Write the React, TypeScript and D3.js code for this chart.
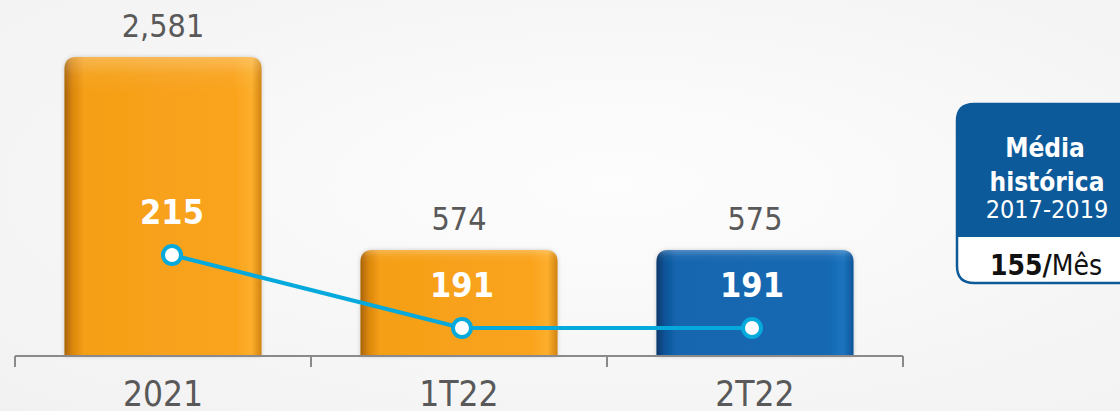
import * as d3 from 'd3'

const categories = ['2021', '1T22', '2T22']
const totals = [2581, 574, 575]
const monthly = [215, 191, 191]
const highlight = ['2T22']
const avgValue = 155
const avgTitle = ['Média', 'histórica']
const avgPeriod = '2017-2019'
const avgUnit = 'Mês'

const W = 1120
const H = 411
const baseY = 356
const FONT = '"DejaVu Sans Condensed", "DejaVu Sans", sans-serif'

export default function App() {
  const x = d3.scaleBand<string>().domain(categories).range([15, 903]).paddingInner(0.334).paddingOuter(0.167)
  // bars do not start at zero in the original, so the domain is offset
  const y = d3.scaleLinear().domain([-528, 2581]).range([baseY, 57])
  const xl = d3.scalePoint<string>().domain(categories).range([172, 752])
  const yl = d3.scaleLinear().domain([181.8, 215]).range([baseY, 255])
  const fmt = d3.format(',')

  const line = d3.line<number>()
    .x((_, i) => xl(categories[i]) as number)
    .y(d => yl(d))

  const r = 12
  const barPath = (x0: number, y0: number, w: number, h: number) =>
    `M${x0},${y0 + h} V${y0 + r} Q${x0},${y0} ${x0 + r},${y0} H${x0 + w - r} Q${x0 + w},${y0} ${x0 + w},${y0 + r} V${y0 + h} Z`

  const tickXs = categories.map((_, i) => 15 + i * x.step()).concat([15 + categories.length * x.step()])

  return (
    <div style={{ position: 'absolute', left: 0, top: 0 }}>
      <svg width={W} height={H} style={{ display: 'block' }}>
        <defs>
          <radialGradient id="bg" cx="0.55" cy="0.45" r="0.8">
            <stop offset="0" stopColor="#fdfdfd" />
            <stop offset="1" stopColor="#f1f1f1" />
          </radialGradient>
          <linearGradient id="orangeH" x1="0" x2="1" y1="0" y2="0">
            <stop offset="0" stopColor="#a86305" />
            <stop offset="0.04" stopColor="#d9860c" />
            <stop offset="0.10" stopColor="#f59f18" />
            <stop offset="0.86" stopColor="#faa31c" />
            <stop offset="0.95" stopColor="#fcae2c" />
            <stop offset="1" stopColor="#d08310" />
          </linearGradient>
          <linearGradient id="blueH" x1="0" x2="1" y1="0" y2="0">
            <stop offset="0" stopColor="#08376b" />
            <stop offset="0.04" stopColor="#0d5396" />
            <stop offset="0.10" stopColor="#1465af" />
            <stop offset="0.86" stopColor="#1668b2" />
            <stop offset="0.95" stopColor="#1b73be" />
            <stop offset="1" stopColor="#0e5598" />
          </linearGradient>
          <linearGradient id="topHL" x1="0" x2="0" y1="0" y2="1">
            <stop offset="0" stopColor="#ffffff" stopOpacity="0.25" />
            <stop offset="0.06" stopColor="#ffffff" stopOpacity="0.05" />
            <stop offset="0.12" stopColor="#ffffff" stopOpacity="0" />
          </linearGradient>
          <filter id="shadow" x="-10%" y="-10%" width="120%" height="120%">
            <feDropShadow dx="0" dy="0" stdDeviation="2" floodColor="#000" floodOpacity="0.18" />
          </filter>
        </defs>
        <rect width={W} height={H} fill="url(#bg)" />

        {categories.map((c, i) => {
          const x0 = x(c) as number
          const y0 = y(totals[i])
          const h = baseY - y0
          const fill = highlight.includes(c) ? 'url(#blueH)' : 'url(#orangeH)'
          return (
            <g key={c}>
              <path d={barPath(x0, y0, x.bandwidth(), h)} fill={fill} filter="url(#shadow)" />
              <path d={barPath(x0, y0, x.bandwidth(), h)} fill="url(#topHL)" />
              <text x={x0 + x.bandwidth() / 2} y={y0 - 20} textAnchor="middle" fontFamily={FONT}
                fontSize={32} fill="#595959">{fmt(totals[i])}</text>
            </g>
          )
        })}

        <line x1={15} x2={903} y1={baseY} y2={baseY} stroke="#8a8a8a" strokeWidth={2} />
        {tickXs.map((tx, i) => (
          <line key={i} x1={tx} x2={tx} y1={baseY} y2={baseY + 11} stroke="#8a8a8a" strokeWidth={2} />
        ))}
        {categories.map(c => (
          <text key={c} x={(x(c) as number) + x.bandwidth() / 2} y={406} textAnchor="middle"
            fontFamily={FONT} fontSize={35} fill="#595959">{c}</text>
        ))}

        <path d={line(monthly) as string} fill="none" stroke="#05a9dc" strokeWidth={4} />
        {monthly.map((v, i) => (
          <g key={i}>
            <circle cx={xl(categories[i])} cy={yl(v)} r={9} fill="#fff" stroke="#05a9dc" strokeWidth={4} />
            <text x={xl(categories[i])} y={yl(v) - 31} textAnchor="middle" fontFamily={FONT}
              fontWeight="bold" fontSize={34} fill="#fff">{v}</text>
          </g>
        ))}

        <g>
          <path d="M957,121 Q957,104 974,104 H1122 V283 H974 Q957,283 957,266 Z" fill="#fff" stroke="#0d5a9b" strokeWidth={2.5} />
          <path d="M957,121 Q957,104 974,104 H1122 V237 H957 Z" fill="#0d5a9b" />
          <text x={1045} y={157} textAnchor="middle" fontFamily={FONT} fontWeight="bold" fontSize={26} fill="#fff">{avgTitle[0]}</text>
          <text x={1047} y={191} textAnchor="middle" fontFamily={FONT} fontWeight="bold" fontSize={26} fill="#fff">{avgTitle[1]}</text>
          <text x={1047} y={218} textAnchor="middle" fontFamily={FONT} fontSize={25} fill="#fff">{avgPeriod}</text>
          <text x={1046} y={275} textAnchor="middle" fontFamily={FONT} fontSize={28} fill="#111">
            <tspan fontWeight="bold">{avgValue}/</tspan>
            <tspan>{avgUnit}</tspan>
          </text>
        </g>
      </svg>
    </div>
  )
}
